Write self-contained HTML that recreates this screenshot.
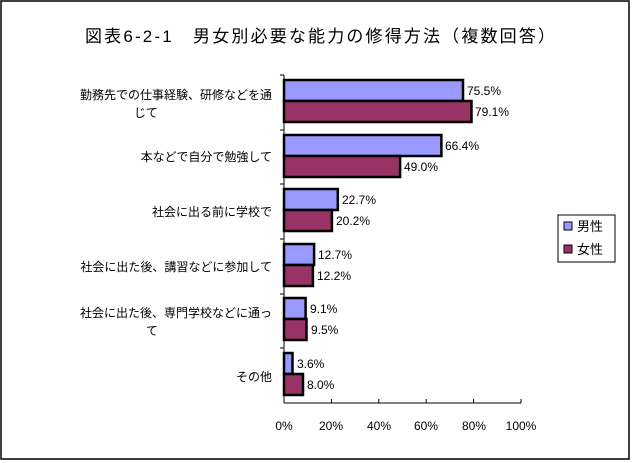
<!DOCTYPE html>
<html><head><meta charset="utf-8"><style>body{margin:0;background:#fff}svg{display:block}</style></head><body>
<svg width="633" height="463" viewBox="0 0 633 463" xmlns="http://www.w3.org/2000/svg" font-family="'Liberation Sans','Noto Sans CJK JP',sans-serif">
<rect x="0" y="0" width="633" height="463" fill="#fff"/>
<rect x="1" y="1" width="628" height="458" fill="none" stroke="#000" stroke-width="1.5"/>
<text x="85" y="42" font-size="17" textLength="470" lengthAdjust="spacing">図表6-2-1　男女別必要な能力の修得方法（複数回答）</text>
<g stroke="#000" stroke-width="1">
<line x1="284" y1="75" x2="284" y2="403"/>
<line x1="284" y1="403" x2="521" y2="403"/>
<line x1="280" y1="75" x2="284" y2="75"/><line x1="280" y1="130" x2="284" y2="130"/><line x1="280" y1="184" x2="284" y2="184"/><line x1="280" y1="239" x2="284" y2="239"/><line x1="280" y1="294" x2="284" y2="294"/><line x1="280" y1="348" x2="284" y2="348"/>
<line x1="331.4" y1="403" x2="331.4" y2="399"/><line x1="378.8" y1="403" x2="378.8" y2="399"/><line x1="426.2" y1="403" x2="426.2" y2="399"/><line x1="473.6" y1="403" x2="473.6" y2="399"/><line x1="521" y1="403" x2="521" y2="399"/>
</g>
<g stroke="#000" stroke-width="2.5">
<rect x="284" y="80" width="179" height="21" fill="#9999ff"/>
<rect x="284" y="101" width="187.5" height="21" fill="#993366"/>
<rect x="284" y="135" width="157.4" height="21" fill="#9999ff"/>
<rect x="284" y="156" width="116.1" height="21" fill="#993366"/>
<rect x="284" y="189" width="53.8" height="21" fill="#9999ff"/>
<rect x="284" y="210" width="47.9" height="21" fill="#993366"/>
<rect x="284" y="244" width="30.1" height="21" fill="#9999ff"/>
<rect x="284" y="265" width="28.9" height="21" fill="#993366"/>
<rect x="284" y="298" width="21.6" height="21" fill="#9999ff"/>
<rect x="284" y="319" width="22.5" height="21" fill="#993366"/>
<rect x="284" y="353" width="8.5" height="21" fill="#9999ff"/>
<rect x="284" y="374" width="19" height="21" fill="#993366"/>
</g>
<g font-size="12">
<text x="467" y="95">75.5%</text><text x="475" y="116">79.1%</text>
<text x="445" y="150">66.4%</text><text x="404" y="171">49.0%</text>
<text x="342" y="204">22.7%</text><text x="336" y="225">20.2%</text>
<text x="318" y="259">12.7%</text><text x="317" y="280">12.2%</text>
<text x="310" y="313">9.1%</text><text x="311" y="334">9.5%</text>
<text x="297" y="368">3.6%</text><text x="307" y="389">8.0%</text>
</g>
<g font-size="12" text-anchor="middle">
<text x="284" y="430">0%</text><text x="331" y="430">20%</text><text x="379" y="430">40%</text><text x="426" y="430">60%</text><text x="474" y="430">80%</text><text x="521" y="430">100%</text>
</g>
<g font-size="12" text-anchor="end">
<text x="272" y="99">勤務先での仕事経験、研修などを通</text>
<text x="134" y="117" text-anchor="start">じて</text>
<text x="272" y="161">本などで自分で勉強して</text>
<text x="272" y="216">社会に出る前に学校で</text>
<text x="272" y="271">社会に出た後、講習などに参加して</text>
<text x="272" y="317">社会に出た後、専門学校などに通っ</text>
<text x="146" y="335" text-anchor="start">て</text>
<text x="272" y="381">その他</text>
</g>
<rect x="558" y="215" width="57" height="47" fill="#fff" stroke="#000" stroke-width="1"/>
<rect x="564" y="222" width="8" height="8" fill="#9999ff" stroke="#000" stroke-width="1"/>
<rect x="564" y="245" width="8" height="8" fill="#993366" stroke="#000" stroke-width="1"/>
<text x="577" y="231" font-size="13">男性</text>
<text x="577" y="254" font-size="13">女性</text>
</svg>
</body></html>
